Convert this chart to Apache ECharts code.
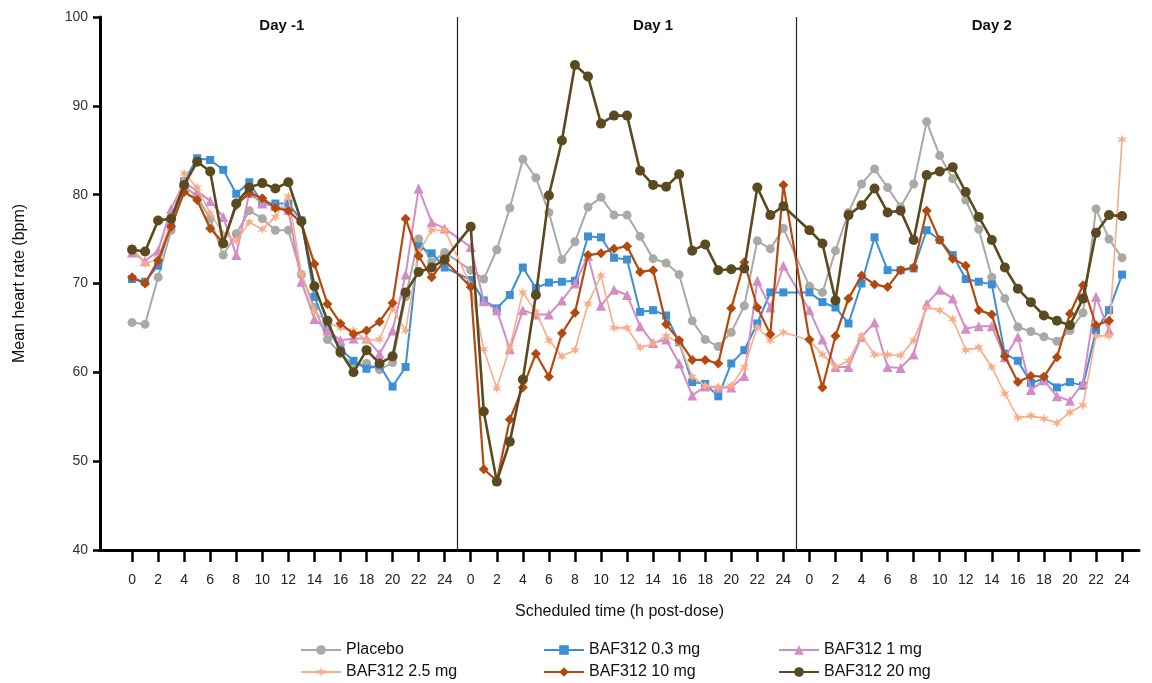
<!DOCTYPE html>
<html>
<head>
<meta charset="utf-8">
<title>Mean heart rate by scheduled time</title>
<script src="https://cdn.jsdelivr.net/npm/echarts@6/dist/echarts.min.js"></script>
<style>
  html, body { margin: 0; padding: 0; background: #fff; }
  #chart { width: 1152px; height: 683px; }
</style>
</head>
<body>
<div id="chart"></div>
<script>
// days and hours (h post-dose) of the three panels
var days = ['Day -1', 'Day 1', 'Day 2'];
var hours = [0, 1, 2, 3, 4, 5, 6, 7, 8, 9, 10, 11, 12, 13, 14, 15, 16, 17, 18, 19, 20, 21, 22, 23, 24];
var hourTicks = [0, 2, 4, 6, 8, 10, 12, 14, 16, 18, 20, 22, 24];
var yTicks = [40, 50, 60, 70, 80, 90, 100];

// Mean heart rate (bpm), one array per group and day
var placeboDm1 = [65.6, 65.4, 70.7, 76.0, 81.0, 79.8, 77.3, 73.2, 75.6, 78.2, 77.3, 76.0, 76.0, 71.0, 67.3, 63.7, 62.1, 60.8, 61.0, 60.3, 61.1, 68.5, 75.0, 72.4, 73.5];
var placeboD1  = [71.5, 70.5, 73.8, 78.5, 84.0, 81.9, 78.0, 72.7, 74.7, 78.6, 79.7, 77.7, 77.7, 75.3, 72.8, 72.3, 71.0, 65.8, 63.7, 62.9, 64.5, 67.5, 74.8, 73.9, 76.2];
var placeboD2  = [69.7, 69.0, 73.7, 78.0, 81.2, 82.9, 80.8, 78.6, 81.2, 88.2, 84.4, 81.8, 79.4, 76.1, 70.7, 68.3, 65.1, 64.6, 64.0, 63.5, 64.7, 66.7, 78.4, 75.0, 72.9];

var dose03Dm1 = [70.5, 70.2, 72.0, 76.8, 81.5, 84.1, 83.9, 82.8, 80.1, 81.4, 79.0, 79.0, 79.0, 77.1, 68.5, 64.9, 62.6, 61.3, 60.4, 60.8, 58.4, 60.6, 74.2, 73.4, 71.8];
var dose03D1  = [70.4, 68.1, 67.2, 68.7, 71.8, 69.5, 70.1, 70.2, 70.3, 75.3, 75.2, 72.9, 72.7, 66.8, 67.0, 66.4, 63.4, 58.9, 58.7, 57.3, 61.0, 62.5, 65.5, 69.0, 69.0];
var dose03D2  = [69.0, 67.9, 67.3, 65.5, 70.0, 75.2, 71.5, 71.5, 71.7, 76.0, 74.9, 73.2, 70.5, 70.2, 69.9, 62.1, 61.3, 58.8, 59.3, 58.3, 58.9, 58.5, 64.7, 67.0, 71.0];

var dose1Dm1 = [73.5, 72.5, 73.7, 78.4, 81.4, 80.4, 79.3, 77.5, 73.2, 80.2, 79.0, 78.7, 78.3, 70.2, 66.0, 64.7, 63.6, 63.8, 63.8, 62.1, 64.7, 71.0, 80.7, 76.9, 76.2];
var dose1D1  = [74.1, 68.0, 67.0, 62.6, 67.0, 66.5, 66.5, 68.1, 70.0, 73.1, 67.5, 69.3, 68.7, 65.2, 63.3, 63.7, 61.0, 57.4, 58.4, 58.3, 58.3, 59.6, 70.3, 67.3, 72.0];
var dose1D2  = [67.0, 63.7, 60.6, 60.6, 64.0, 65.6, 60.6, 60.5, 62.0, 67.7, 69.3, 68.3, 64.9, 65.2, 65.2, 61.7, 64.0, 58.0, 59.1, 57.3, 56.8, 58.8, 68.5, 64.7, null];

var dose25Dm1 = [74.1, 72.2, 72.8, 77.0, 82.4, 80.8, 77.9, 75.6, 74.8, 76.9, 76.1, 77.5, 79.8, 71.1, 66.8, 65.6, 65.0, 64.7, 63.6, 63.7, 67.2, 64.7, 73.5, 76.0, 76.0];
var dose25D1  = [69.8, 62.6, 58.2, 62.8, 69.0, 66.8, 63.6, 61.8, 62.5, 67.7, 70.9, 65.0, 65.0, 62.8, 63.2, 64.1, 63.3, 59.5, 58.5, 58.3, 58.5, 60.6, 65.1, 63.6, 64.5];
var dose25D2  = [63.6, 62.0, 60.6, 61.3, 64.1, 62.0, 62.0, 61.9, 63.6, 67.3, 67.0, 66.0, 62.5, 62.8, 60.6, 57.6, 54.9, 55.1, 54.8, 54.3, 55.5, 56.3, 64.1, 64.1, 86.2];

var dose10Dm1 = [70.7, 70.0, 72.6, 76.4, 80.3, 79.4, 76.2, 74.6, 78.8, 80.2, 79.6, 78.5, 78.2, 76.8, 72.2, 67.7, 65.5, 64.3, 64.7, 65.7, 67.8, 77.3, 73.1, 70.7, 72.6];
var dose10D1  = [69.6, 49.1, 47.8, 54.7, 58.3, 62.1, 59.5, 64.4, 66.7, 73.2, 73.4, 73.9, 74.2, 71.3, 71.5, 65.4, 63.6, 61.4, 61.4, 61.0, 67.2, 72.4, 67.3, 64.3, 81.1];
var dose10D2  = [63.7, 58.3, 64.1, 68.3, 70.9, 69.9, 69.6, 71.5, 71.8, 78.2, 74.9, 72.8, 72.0, 67.0, 66.5, 61.8, 58.9, 59.6, 59.5, 61.7, 66.6, 69.8, 65.3, 65.8, null];

var dose20Dm1 = [73.8, 73.6, 77.1, 77.3, 81.1, 83.7, 82.6, 74.5, 79.0, 80.8, 81.3, 80.7, 81.4, 77.0, 69.7, 65.8, 62.3, 60.0, 62.5, 61.0, 61.8, 69.0, 71.3, 71.8, 72.7];
var dose20D1  = [76.4, 55.6, 47.7, 52.2, 59.2, 68.7, 79.9, 86.1, 94.6, 93.3, 88.0, 88.9, 88.9, 82.7, 81.1, 80.9, 82.3, 73.7, 74.4, 71.5, 71.6, 71.7, 80.8, 77.7, 78.7];
var dose20D2  = [76.0, 74.5, 68.1, 77.7, 78.8, 80.7, 78.0, 78.2, 74.9, 82.2, 82.6, 83.1, 80.3, 77.5, 74.9, 71.8, 69.4, 67.9, 66.4, 65.8, 65.3, 68.3, 75.7, 77.7, 77.6];

var groupNames = ['Placebo', 'BAF312 0.3 mg', 'BAF312 1 mg', 'BAF312 2.5 mg', 'BAF312 10 mg', 'BAF312 20 mg'];
var groupColors = ['#a9aaa5', '#3d8fd4', '#d48cc4', '#f8ad88', '#b4490f', '#5b4a1f'];

var DAY_SPAN = 26;  // 24 h + a 2 h gap between panels on the shared axis
var star = 'path://M0,-10L2.2,-3.2L9.5,-5.5L4.2,0L9.5,5.5L2.2,3.2L0,10L-2.2,3.2L-9.5,5.5L-4.2,0L-9.5,-5.5L-2.2,-3.2Z';
var font = "'Liberation Sans', Arial, sans-serif";

// position of a day/hour on the shared value axis
function pos(d, h) { return d * DAY_SPAN + h; }

function toPoints(perDay) {
  var out = [];
  perDay.forEach(function (vals, d) {
    vals.forEach(function (v, i) {
      if (v != null) out.push([pos(d, hours[i]), v]);
    });
  });
  return out;
}

var tickPos = [];
days.forEach(function (_, d) {
  hourTicks.forEach(function (h) { tickPos.push(pos(d, h)); });
});

var groupData = [
  [placeboDm1, placeboD1, placeboD2],
  [dose03Dm1, dose03D1, dose03D2],
  [dose1Dm1, dose1D1, dose1D2],
  [dose25Dm1, dose25D1, dose25D2],
  [dose10Dm1, dose10D1, dose10D2],
  [dose20Dm1, dose20D1, dose20D2]
];
var symbols = ['circle', 'rect', 'triangle', star, 'diamond', 'circle'];
var symbolSizes = [9, 8, 10, 10, 10, 10];
var lineWidths = [2, 2, 2, 1.6, 2.2, 2.6];

var series = groupNames.map(function (name, i) {
  return {
    name: name,
    type: 'line',
    data: toPoints(groupData[i]),
    symbol: symbols[i],
    symbolSize: symbolSizes[i],
    showAllSymbol: true,
    lineStyle: { width: lineWidths[i], color: groupColors[i] },
    itemStyle: { color: groupColors[i] },
    emphasis: { disabled: true },
    z: 2 + i
  };
});

// day separators and day titles
series[0].markLine = {
  silent: true,
  symbol: ['none', 'none'],
  label: { show: false },
  lineStyle: { color: '#222', width: 1.2, type: 'solid' },
  data: [{ xAxis: pos(1, -1) }, { xAxis: pos(2, -1) }]
};
var titleAt = [11.5, 14, 14];
series[0].markPoint = {
  silent: true,
  symbol: 'circle',
  symbolSize: 1,
  itemStyle: { color: 'rgba(0,0,0,0)' },
  label: {
    show: true, position: 'inside', color: '#111',
    fontFamily: font, fontSize: 15, fontWeight: 'bold',
    formatter: function (p) { return p.name; }
  },
  data: days.map(function (d, i) {
    return { name: d, coord: [pos(i, titleAt[i]), 99.05] };
  })
};

var chart = echarts.init(document.getElementById('chart'), null, { renderer: 'canvas' });

// legend: three columns of two items
function legendCol(left, names) {
  return {
    orient: 'vertical',
    left: left,
    top: 641,
    padding: 0,
    itemWidth: 40,
    itemHeight: 12,
    itemGap: 4,
    selectedMode: false,
    data: names,
    textStyle: { fontFamily: font, fontSize: 16, lineHeight: 18, color: '#111' }
  };
}

chart.setOption({
  animation: false,
  backgroundColor: '#fff',
  textStyle: { fontFamily: font },
  grid: { left: 100, right: 13, top: 17, bottom: 133, containLabel: false, outerBoundsMode: 'none' },
  legend: [
    legendCol(300, ['Placebo', 'BAF312 2.5 mg']),
    legendCol(543, ['BAF312 0.3 mg', 'BAF312 10 mg']),
    legendCol(778, ['BAF312 1 mg', 'BAF312 20 mg'])
  ],
  xAxis: {
    type: 'value',
    min: -2.46,
    max: 77.3,
    name: 'Scheduled time (h post-dose)',
    nameLocation: 'middle',
    nameGap: 54,
    nameTextStyle: { fontFamily: font, fontSize: 16, color: '#111' },
    axisLine: { onZero: false, lineStyle: { color: '#000', width: 3 } },
    axisTick: { customValues: tickPos, length: 12, lineStyle: { color: '#000', width: 2.5 } },
    axisLabel: {
      customValues: tickPos,
      margin: 23,
      fontFamily: font, fontSize: 14, color: '#222',
      formatter: function (v) { return String(Math.round(v) % DAY_SPAN); }
    },
    splitLine: { show: false }
  },
  yAxis: {
    type: 'value',
    min: yTicks[0],
    max: yTicks[yTicks.length - 1],
    interval: 10,
    name: 'Mean heart rate (bpm)',
    nameLocation: 'middle',
    nameGap: 72,
    nameTextStyle: { fontFamily: font, fontSize: 16, color: '#111' },
    axisLine: { show: true, onZero: false, lineStyle: { color: '#000', width: 3 } },
    axisTick: { show: true, length: 7, lineStyle: { color: '#000', width: 2.5 } },
    axisLabel: { margin: 12, fontFamily: font, fontSize: 14, color: '#333' },
    splitLine: { show: false }
  },
  series: series
});
</script>
</body>
</html>
